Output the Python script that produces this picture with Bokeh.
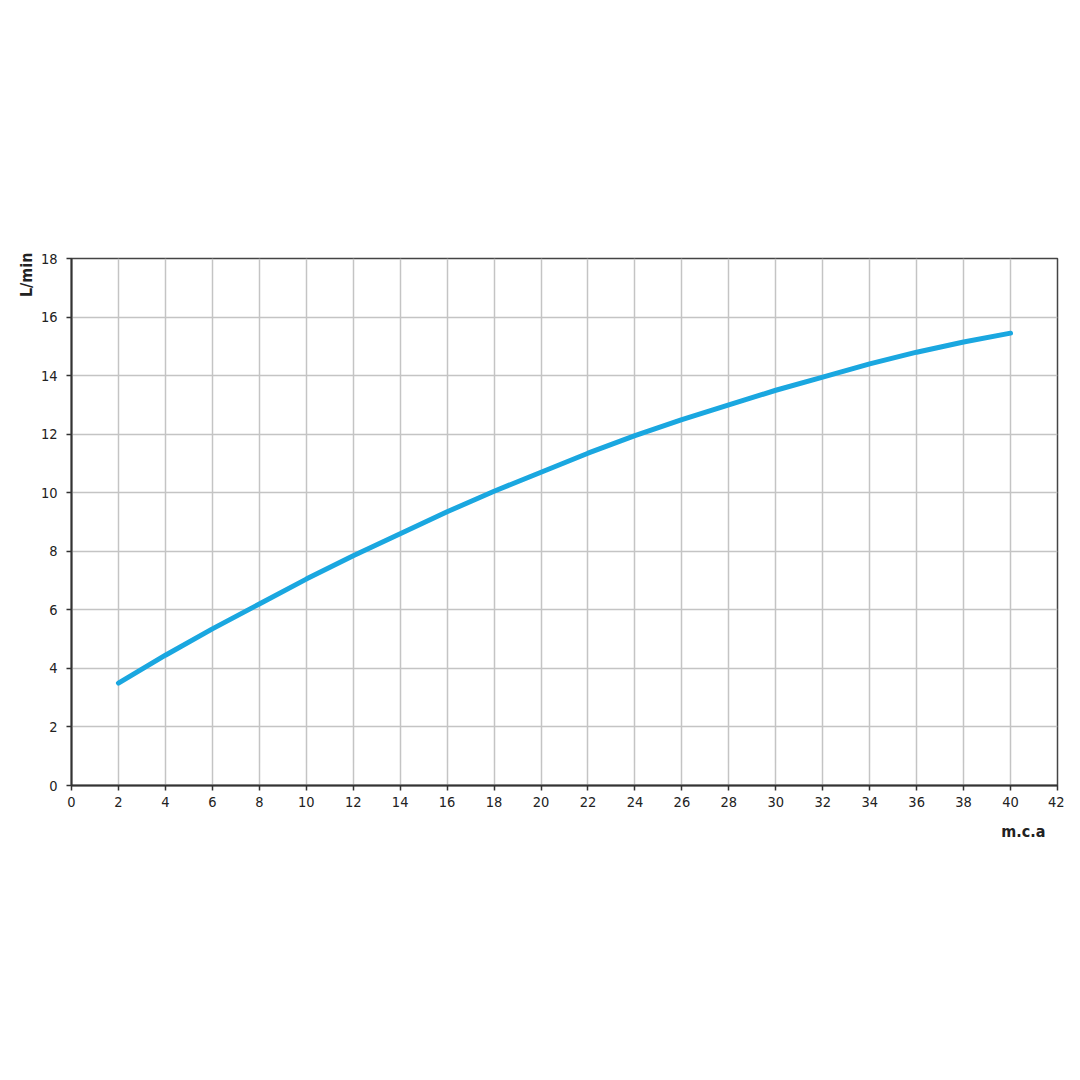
import numpy as np
from bokeh.plotting import figure
from bokeh.models import Range1d, FixedTicker, Title
from bokeh.embed import file_html
from bokeh.resources import INLINE

pressure_mca = [2, 4, 6, 8, 10, 12, 14, 16, 18, 20, 22, 24, 26, 28, 30, 32, 34, 36, 38, 40]
flow_lmin = [3.5, 4.45, 5.35, 6.2, 7.05, 7.85, 8.6, 9.35, 10.05, 10.7, 11.35, 11.95,
             12.5, 13.0, 13.5, 13.95, 14.4, 14.8, 15.15, 15.45]
x_ticks = list(range(0, 43, 2))
y_ticks = list(range(0, 19, 2))
x_label = "m.c.a"
y_label = "L/min"

FONT = "'Liberation Sans Narrow', 'DejaVu Sans Condensed', 'Liberation Sans', sans-serif"

p = figure(width=1064, height=1064, output_backend="svg", toolbar_location=None,
           x_range=Range1d(0, 42), y_range=Range1d(0, 18),
           min_border_left=71, min_border_right=7, min_border_top=258, min_border_bottom=279)
p.background_fill_color = "white"
p.border_fill_color = "white"
p.outline_line_color = "#444444"
p.outline_line_width = 1.5

for ax in (p.xaxis, p.yaxis):
    ax.axis_line_color = "#333333"
    ax.axis_line_width = 2
    ax.major_tick_line_color = "#333333"
    ax.major_tick_line_width = 1.5
    ax.major_tick_out = 5
    ax.major_tick_in = 0
    ax.minor_tick_line_color = None
    ax.major_label_text_font = FONT
    ax.major_label_text_font_size = "14.5px"
    ax.major_label_text_color = "#222222"
p.xaxis.ticker = FixedTicker(ticks=x_ticks)
p.yaxis.ticker = FixedTicker(ticks=y_ticks)
p.xaxis.major_label_standoff = 6
p.yaxis.major_label_standoff = 9

p.grid.grid_line_color = "#c4c4c4"
p.grid.grid_line_width = 1.5
p.xgrid.ticker = FixedTicker(ticks=x_ticks)
p.ygrid.ticker = FixedTicker(ticks=y_ticks)

p.line(pressure_mca, flow_lmin, line_color="#1aa7e0", line_width=5, line_cap="round")

p.add_layout(Title(text=x_label, align="right", offset=12, standoff=20,
                   text_font=FONT, text_font_size="16px", text_font_style="bold",
                   text_color="#222222"), "below")
p.add_layout(Title(text=y_label, align="right", offset=-6, standoff=4,
                   text_font=FONT, text_font_size="16px", text_font_style="bold",
                   text_color="#222222"), "left")

open("out.html", "w").write(file_html(p, INLINE))
